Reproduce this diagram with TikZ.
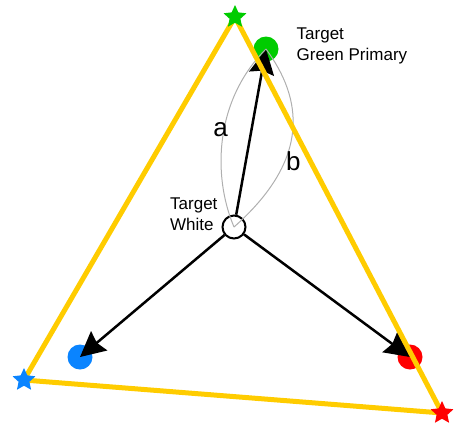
\documentclass[tikz,border=0pt]{standalone}
\usepackage{fontspec}
\setmainfont{Liberation Sans}
\usetikzlibrary{shapes.geometric,arrows.meta}
\definecolor{ygold}{RGB}{255,204,0}
\definecolor{pgreen}{RGB}{0,204,0}
\definecolor{pblue}{RGB}{10,132,255}
\definecolor{pred}{RGB}{255,0,0}
\definecolor{arcgray}{RGB}{175,175,175}
\begin{document}
\begin{tikzpicture}[x=1pt,y=-1pt,
  dot/.style={circle,inner sep=0pt,minimum size=25pt},
  vec/.style={line width=2.5pt,-{Stealth[length=25pt,width=25pt,inset=3pt]}},
  arcline/.style={arcgray,line width=1pt},
  gamut/.style={ygold,line width=5pt,line join=round},
  starmark/.style={star,star points=5,star point ratio=2.1,minimum size=24pt,inner sep=0pt},
  lbl/.style={font=\fontsize{17}{20.5}\selectfont,inner sep=0pt,align=left,anchor=north west},
  letter/.style={font=\fontsize{26}{30}\selectfont,inner sep=0pt}]
\useasboundingbox (0,0) rectangle (458,424);
% primaries
\node[dot,fill=pgreen] (G) at (266,49) {};
\node[dot,fill=pblue] (B) at (80,357) {};
\node[dot,fill=pred] (R) at (410,357) {};
% white point
\node[circle,draw,line width=2pt,fill=white,minimum size=23pt,inner sep=0pt] (W) at (234,227) {};
% vectors
\draw[vec] (W) -- (G.center);
\draw[vec] (W) -- (B.center);
\draw[vec] (W) -- (R.center);
% arcs
\draw[arcline] (W.center) .. controls (212,175) and (215,100) .. (G.center);
\draw[arcline] (W.center) .. controls (312,158) and (302,98) .. (G.center);
% gamut triangle
\coordinate (SG) at (235,17);
\coordinate (SB) at (24,380);
\coordinate (SR) at (442,413);
\draw[gamut] (SG) -- (SR) -- (SB) -- cycle;
\node[starmark,fill=pgreen] (StG) at (SG) {};
\node[starmark,fill=pblue] (StB) at (SB) {};
\node[starmark,fill=pred] (StR) at (SR) {};
% labels
\node[lbl] (tw) at (170,198) {Target\\White};
\node[lbl] (tg) at (296.5,28) {Target\\Green Primary};
\node[letter] (la) at (220.5,129.7) {a};
\node[letter] (lb) at (293.3,161) {b};
\end{tikzpicture}
\end{document}
